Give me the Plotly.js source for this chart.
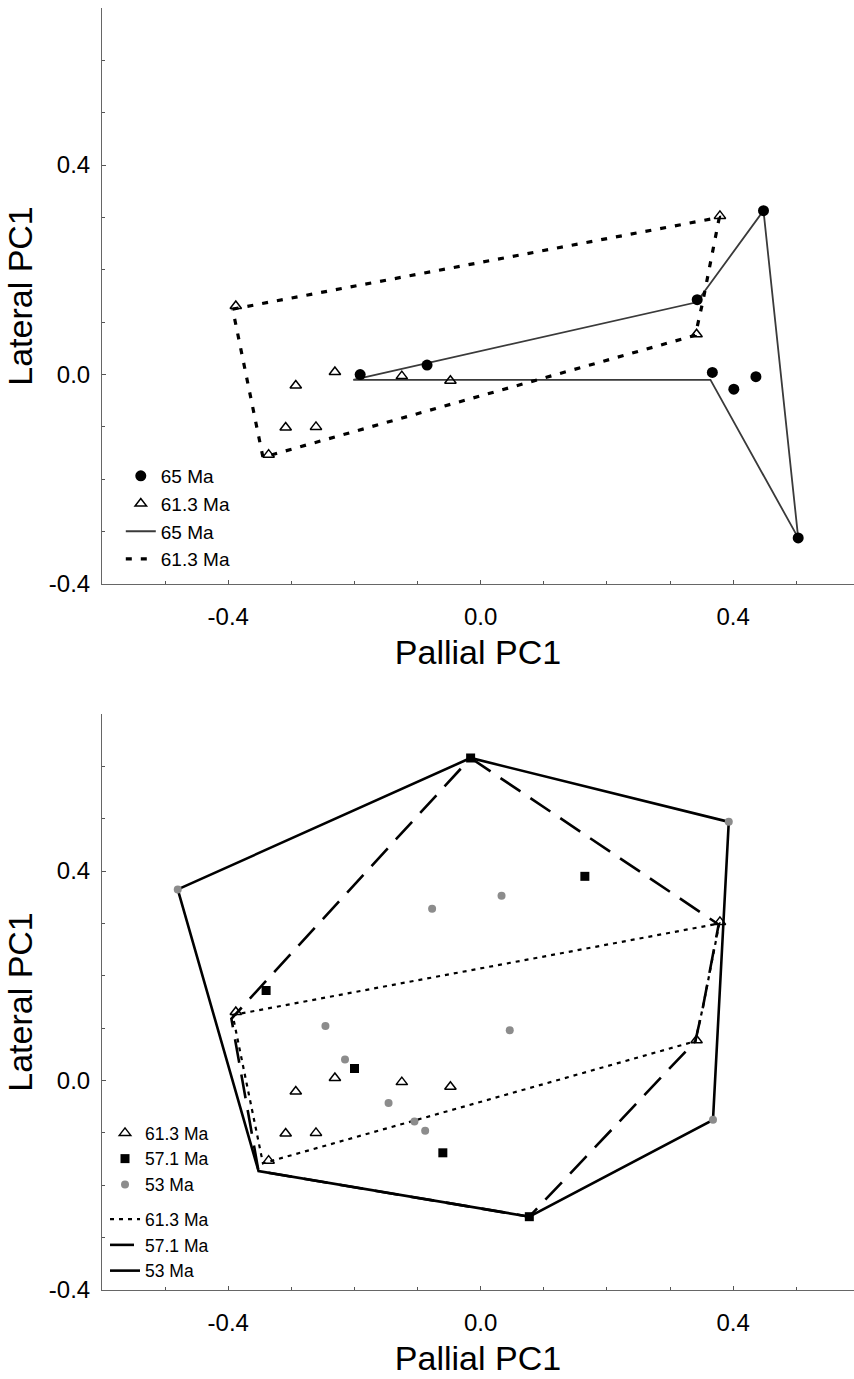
<!DOCTYPE html>
<html>
<head>
<meta charset="utf-8">
<script src="https://cdn.plot.ly/plotly-3.0.1.min.js"></script>
<style>html,body{margin:0;padding:0;background:#fff;overflow:hidden}#chart{width:854px;height:1379px}</style>
</head>
<body>
<div id="chart"></div>
<script>
// ---- data ----
// 61.3 Ma specimens (triangles) — same in both panels
const tri613X = [-0.388, -0.293, -0.231, -0.125, -0.048, -0.309, -0.261, -0.336, 0.379, 0.342];
const tri613Y = [0.131, -0.021, 0.005, -0.003, -0.012, -0.101, -0.100, -0.153, 0.303, 0.077];
// 65 Ma specimens (filled circles, top panel)
const circ65X = [-0.191, -0.085, 0.343, 0.448, 0.367, 0.401, 0.436, 0.503];
const circ65Y = [0.000, 0.018, 0.143, 0.313, 0.004, -0.028, -0.004, -0.312];
// 57.1 Ma specimens (squares, bottom panel)
const sq571X = [-0.016, 0.165, -0.340, -0.200, -0.060, 0.077];
const sq571Y = [0.616, 0.390, 0.172, 0.023, -0.138, -0.260];
// 53 Ma specimens (grey dots, bottom panel)
const dot53X = [-0.480, 0.393, 0.033, -0.077, -0.246, 0.046, -0.215, -0.146, -0.105, -0.088, 0.368];
const dot53Y = [0.365, 0.494, 0.353, 0.328, 0.104, 0.096, 0.040, -0.043, -0.078, -0.096, -0.075];
// convex hull outlines
const hull65X = [-0.202, 0.342, 0.448, 0.503, 0.364, -0.202];
const hull65Y = [-0.010, 0.138, 0.313, -0.312, -0.010, -0.010];
const hull613X = [-0.393, 0.378, 0.352, 0.340, -0.345, -0.393];
const hull613Y = [0.125, 0.300, 0.140, 0.075, -0.158, 0.125];
const hull571X = [-0.016, 0.377, 0.352, 0.340, 0.077, -0.352, -0.395, -0.016];
const hull571Y = [0.616, 0.298, 0.140, 0.075, -0.260, -0.173, 0.118, 0.616];
const hull53X = [-0.480, -0.016, 0.393, 0.368, 0.077, -0.352, -0.480];
const hull53Y = [0.365, 0.616, 0.494, -0.075, -0.260, -0.173, 0.365];
// labels
const tickVals = [-0.4, 0.0, 0.4];
const tickText = ['-0.4', '0.0', '0.4'];
const xTitle = 'Pallial PC1';
const yTitle = 'Lateral PC1';

// ---- traces ----
const FONT = 'Liberation Sans, Arial, Helvetica, sans-serif';
const traces = [
  // top panel
  {x: hull65X, y: hull65Y, mode: 'lines', name: '65 Ma', legendrank: 3,
   line: {color: '#3a3a3a', width: 1.8}, xaxis: 'x', yaxis: 'y', legend: 'legend'},
  {x: hull613X, y: hull613Y, mode: 'lines', name: '61.3 Ma', legendrank: 4,
   line: {color: '#000', width: 3.2, dash: '6px,9px'}, xaxis: 'x', yaxis: 'y', legend: 'legend'},
  {x: circ65X, y: circ65Y, mode: 'markers', name: '65 Ma', legendrank: 1,
   marker: {symbol: 'circle', size: 11, color: '#000'}, xaxis: 'x', yaxis: 'y', legend: 'legend'},
  {x: tri613X, y: tri613Y, mode: 'markers', name: '61.3 Ma', legendrank: 2,
   marker: {symbol: 'triangle-up-open', size: 10, color: '#000', line: {width: 1.5}}, xaxis: 'x', yaxis: 'y', legend: 'legend'},
  // bottom panel
  {x: hull613X, y: hull613Y, mode: 'lines', name: '61.3 Ma', legendrank: 4, legendgroup: 'h',
   line: {color: '#000', width: 2.2, dash: '4px,5px'}, xaxis: 'x2', yaxis: 'y2', legend: 'legend2'},
  {x: hull571X, y: hull571Y, mode: 'lines', name: '57.1 Ma', legendrank: 5, legendgroup: 'h',
   line: {color: '#000', width: 2.6, dash: '24px,12px'}, xaxis: 'x2', yaxis: 'y2', legend: 'legend2'},
  {x: hull53X, y: hull53Y, mode: 'lines', name: '53 Ma', legendrank: 6, legendgroup: 'h',
   line: {color: '#000', width: 2.6}, xaxis: 'x2', yaxis: 'y2', legend: 'legend2'},
  {x: tri613X, y: tri613Y, mode: 'markers', name: '61.3 Ma', legendrank: 1, legendgroup: 'p',
   marker: {symbol: 'triangle-up-open', size: 10, color: '#000', line: {width: 1.5}}, xaxis: 'x2', yaxis: 'y2', legend: 'legend2'},
  {x: sq571X, y: sq571Y, mode: 'markers', name: '57.1 Ma', legendrank: 2, legendgroup: 'p',
   marker: {symbol: 'square', size: 9, color: '#000'}, xaxis: 'x2', yaxis: 'y2', legend: 'legend2'},
  {x: dot53X, y: dot53Y, mode: 'markers', name: '53 Ma', legendrank: 3, legendgroup: 'p',
   marker: {symbol: 'circle', size: 8, color: '#8c8c8c'}, xaxis: 'x2', yaxis: 'y2', legend: 'legend2'}
];

// ---- layout ----
const H = 1379;
const py = p => 1 - p / H; // pixel from top -> paper
function xAxis(anchor) {
  return {
    anchor: anchor, domain: [0, 1], range: [-0.6, 0.5914],
    showline: true, linecolor: '#666', linewidth: 1, mirror: false,
    showgrid: false, zeroline: false,
    ticks: 'inside', ticklen: 4, tickcolor: '#555',
    tickvals: tickVals, ticktext: tickText,
    tickfont: {family: FONT, size: 24, color: '#000'}, ticklabelstandoff: 11,
    minor: {dtick: 0.1, tick0: 0, ticks: 'inside', ticklen: 3, tickcolor: '#555', showgrid: false},
    title: {text: xTitle, font: {family: FONT, size: 34, color: '#000'}, standoff: 11},
    fixedrange: true
  };
}
function yAxis(anchor, d) {
  return {
    anchor: anchor, domain: d, range: [-0.4, 0.7],
    showline: true, linecolor: '#666', linewidth: 1, mirror: false,
    showgrid: false, zeroline: false,
    ticks: 'inside', ticklen: 4, tickcolor: '#555',
    tickvals: tickVals, ticktext: tickText,
    tickfont: {family: FONT, size: 24, color: '#000'}, ticklabelstandoff: 6,
    minor: {dtick: 0.1, tick0: 0, ticks: 'inside', ticklen: 3, tickcolor: '#555', showgrid: false},
    title: {text: yTitle, font: {family: FONT, size: 34, color: '#000'}, standoff: 5},
    fixedrange: true
  };
}
const legendCommon = {
  bgcolor: 'rgba(0,0,0,0)', borderwidth: 0,
  xanchor: 'left', yanchor: 'top', itemclick: false, itemdoubleclick: false
};
const layout = {
  width: 854, height: H,
  margin: {l: 102, r: 0, t: 0, b: 0, autoexpand: false},
  paper_bgcolor: '#fff', plot_bgcolor: '#fff',
  showlegend: true,
  xaxis: xAxis('y'),
  yaxis: yAxis('x', [py(584), py(8)]),
  xaxis2: xAxis('y2'),
  yaxis2: yAxis('x2', [py(1290), py(714)]),
  legend: Object.assign({}, legendCommon, {x: 0.025, y: py(457), traceorder: 'normal',
    font: {family: FONT, size: 19, color: '#000'}}),
  legend2: Object.assign({}, legendCommon, {x: 0.004, y: py(1115), traceorder: 'grouped', tracegroupgap: 9,
    font: {family: FONT, size: 17.5, color: '#000'}})
};
Plotly.newPlot('chart', traces, layout, {displayModeBar: false, staticPlot: true});
</script>
</body>
</html>
